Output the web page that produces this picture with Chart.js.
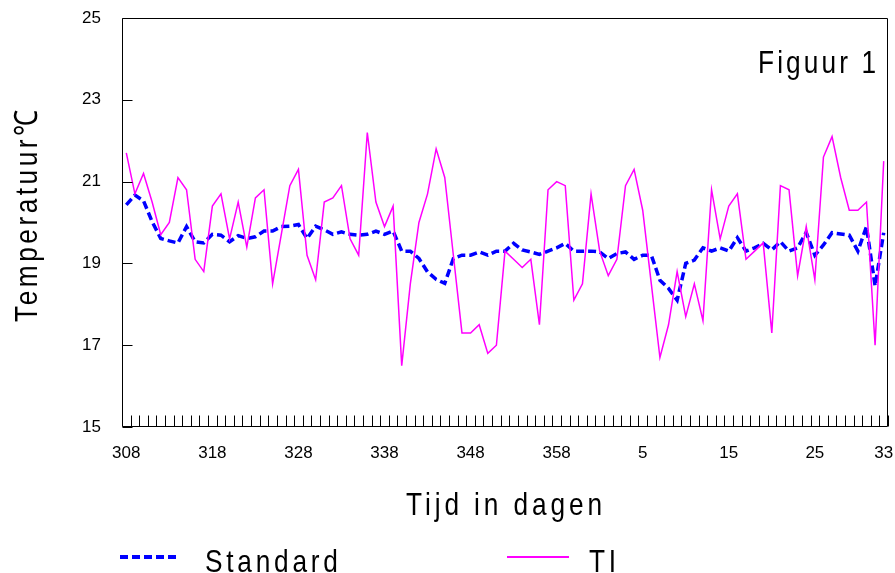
<!DOCTYPE html>
<html>
<head>
<meta charset="utf-8">
<title>Figuur 1</title>
<script src="https://cdn.jsdelivr.net/npm/chart.js@4/dist/chart.umd.min.js"></script>
<style>
  html, body { margin: 0; padding: 0; background: #fff; }
  #wrap { position: relative; width: 895px; height: 573px; overflow: hidden; }
  #chart { position: absolute; left: 0; top: 0; }
  /* narrow, widely spaced caption lettering */
  .txt {
    position: absolute;
    font-family: "Liberation Sans", Arial, sans-serif;
    font-size: 32px;
    line-height: 32px;
    letter-spacing: 4.6px;
    color: #000;
    white-space: nowrap;
    transform: scaleX(0.82);
    transform-origin: 0 0;
  }
  #xTitle { left: 406px; top: 488px; letter-spacing: 4.75px; }
  #yTitle { left: 10px; top: 322px; letter-spacing: 4.3px; transform: rotate(-90deg) scaleX(0.82); }
  #figTitle { left: 758px; top: 46px; letter-spacing: 3.8px; }
  .swatch { position: absolute; }
  #swStd {
    left: 120px; top: 555px; width: 60px; height: 3.5px;
    background: repeating-linear-gradient(to right, #0000ff 0 8px, transparent 8px 12px);
  }
  #swTi { left: 507px; top: 556px; width: 62px; height: 1.5px; background: #ff00ff; }
  #lgStd { left: 205px; top: 545px; }
  #lgTi { left: 589px; top: 545px; }
</style>
</head>
<body>
<div id="wrap">
  <canvas id="chart" width="895" height="573"></canvas>
  <div class="txt" id="xTitle">Tijd in dagen</div>
  <div class="txt" id="yTitle">Temperatuur℃</div>
  <div class="txt" id="figTitle">Figuur 1</div>
  <div class="swatch" id="swStd"></div>
  <div class="txt" id="lgStd">Standard</div>
  <div class="swatch" id="swTi"></div>
  <div class="txt" id="lgTi">TI</div>
</div>
<script>
// Day numbers along the x axis (late autumn into the new year)
const days = [
  308, 309, 310, 311, 312, 313, 314, 315, 316, 317,
  318, 319, 320, 321, 322, 323, 324, 325, 326, 327,
  328, 329, 330, 331, 332, 333, 334, 335, 336, 337,
  338, 339, 340, 341, 342, 343, 344, 345, 346, 347,
  348, 349, 350, 351, 352, 353, 354, 355, 356, 357,
  358, 359, 360, 361, 362, 363, 1, 2, 3, 4,
  5, 6, 7, 8, 9, 10, 11, 12, 13, 14,
  15, 16, 17, 18, 19, 20, 21, 22, 23, 24,
  25, 26, 27, 28, 29, 30, 31, 32, 33
];

// Day labels printed under the axis
const tickLabels = ['308', '318', '328', '338', '348', '358', '5', '15', '25', '33'];

// Temperature ticks on the y axis (°C)
const yTicks = [15, 17, 19, 21, 23, 25];

// Daily temperature, standard installation (°C)
const standard = [
  20.43, 20.67, 20.53, 20.02, 19.61, 19.55, 19.50, 19.90, 19.53, 19.50,
  19.71, 19.69, 19.53, 19.68, 19.61, 19.65, 19.79, 19.79, 19.90, 19.91,
  19.95, 19.61, 19.91, 19.82, 19.71, 19.77, 19.71, 19.69, 19.71, 19.79,
  19.71, 19.79, 19.30, 19.30, 19.12, 18.79, 18.61, 18.51, 19.12, 19.20,
  19.20, 19.28, 19.20, 19.30, 19.30, 19.49, 19.33, 19.28, 19.22, 19.30,
  19.38, 19.49, 19.30, 19.30, 19.30, 19.28, 19.12, 19.24, 19.28, 19.10,
  19.20, 19.20, 18.59, 18.39, 18.10, 19.00, 19.08, 19.38, 19.30, 19.38,
  19.30, 19.63, 19.30, 19.38, 19.49, 19.33, 19.53, 19.30, 19.38, 19.76,
  19.20, 19.45, 19.75, 19.72, 19.69, 19.30, 19.90, 18.45, 19.75
];

// Daily temperature, TI installation (°C)
const ti = [
  21.7, 20.7, 21.2, 20.5, 19.7, 20.0, 21.1, 20.8, 19.1, 18.8,
  20.4, 20.7, 19.6, 20.5, 19.4, 20.6, 20.8, 18.5, 19.7, 20.9,
  21.3, 19.2, 18.6, 20.5, 20.6, 20.9, 19.6, 19.2, 22.2, 20.5,
  19.9, 20.4, 16.5, 18.5, 20.0, 20.7, 21.8, 21.1, 19.2, 17.3,
  17.3, 17.5, 16.8, 17.0, 19.3, 19.1, 18.9, 19.1, 17.5, 20.8,
  21.0, 20.9, 18.1, 18.5, 20.7, 19.3, 18.7, 19.1, 20.9, 21.3,
  20.3, 18.5, 16.7, 17.5, 18.8, 17.7, 18.5, 17.6, 20.8, 19.6,
  20.4, 20.7, 19.1, 19.3, 19.5, 17.3, 20.9, 20.8, 18.7, 19.9,
  18.6, 21.6, 22.1, 21.1, 20.3, 20.3, 20.5, 17.0, 21.5
];

// Closed plot frame plus short inward tick marks on both axes
const framePlugin = {
  id: 'frameTicks',
  afterDatasetsDraw(chart) {
    const { ctx, chartArea: a, scales: { x, y } } = chart;
    const L = Math.round(a.left) + 0.5;
    const R = Math.round(a.right) - 0.5;
    const T = Math.round(a.top) + 0.5;
    const B = Math.round(a.bottom) - 0.5;
    ctx.save();
    ctx.strokeStyle = '#000';
    ctx.lineWidth = 1;
    ctx.beginPath();
    ctx.rect(L, T, R - L, B - T);
    // y ticks pointing into the plot
    yTicks.forEach(v => {
      const py = Math.round(y.getPixelForValue(v)) + 0.5;
      ctx.moveTo(L, py);
      ctx.lineTo(L + 10, py);
    });
    // x ticks at category boundaries, pointing up into the plot
    const n = days.length;
    const step = x.getPixelForValue(1) - x.getPixelForValue(0);
    for (let i = 0; i <= n; i++) {
      const px = Math.round(x.getPixelForValue(i) - step / 2) + 0.5;
      ctx.moveTo(px, B);
      ctx.lineTo(px, B - 11);
    }
    ctx.stroke();
    ctx.restore();
  }
};

const tickFont = { family: '"Liberation Sans", Arial, sans-serif', size: 17 };

new Chart(document.getElementById('chart'), {
  type: 'line',
  data: {
    labels: days.map(String),
    datasets: [
      {
        label: 'Standard',
        data: standard,
        borderColor: '#0000ff',
        borderWidth: 3.5,
        borderDash: [8, 4],
        pointRadius: 0,
        tension: 0,
        fill: false,
        order: 1
      },
      {
        label: 'TI',
        data: ti,
        borderColor: '#ff00ff',
        borderWidth: 1.5,
        pointRadius: 0,
        tension: 0,
        fill: false,
        order: 0
      }
    ]
  },
  options: {
    responsive: false,
    animation: false,
    devicePixelRatio: 1,
    layout: { padding: { top: 18, right: 7, left: 0, bottom: 0 } },
    plugins: {
      legend: { display: false },
      tooltip: { enabled: false }
    },
    scales: {
      x: {
        type: 'category',
        offset: true,
        grid: { display: false, drawTicks: false, offset: true },
        border: { display: false },
        ticks: {
          autoSkip: false,
          maxRotation: 0,
          minRotation: 0,
          padding: 16,
          color: '#000',
          font: tickFont,
          callback(value) {
            const l = this.getLabelForValue(value);
            return tickLabels.includes(l) ? l : '';
          }
        },
        afterFit(scale) {
          scale.height = 146;
          scale.paddingLeft = 0;
          scale.paddingRight = 0;
        }
      },
      y: {
        min: 15,
        max: 25,
        grid: { display: false, drawTicks: false },
        border: { display: false },
        ticks: {
          stepSize: 2,
          padding: 21,
          color: '#000',
          font: tickFont
        },
        afterFit(scale) {
          scale.width = 122;
          scale.paddingTop = 0;
          scale.paddingBottom = 0;
        }
      }
    }
  },
  plugins: [framePlugin]
});
</script>
</body>
</html>
